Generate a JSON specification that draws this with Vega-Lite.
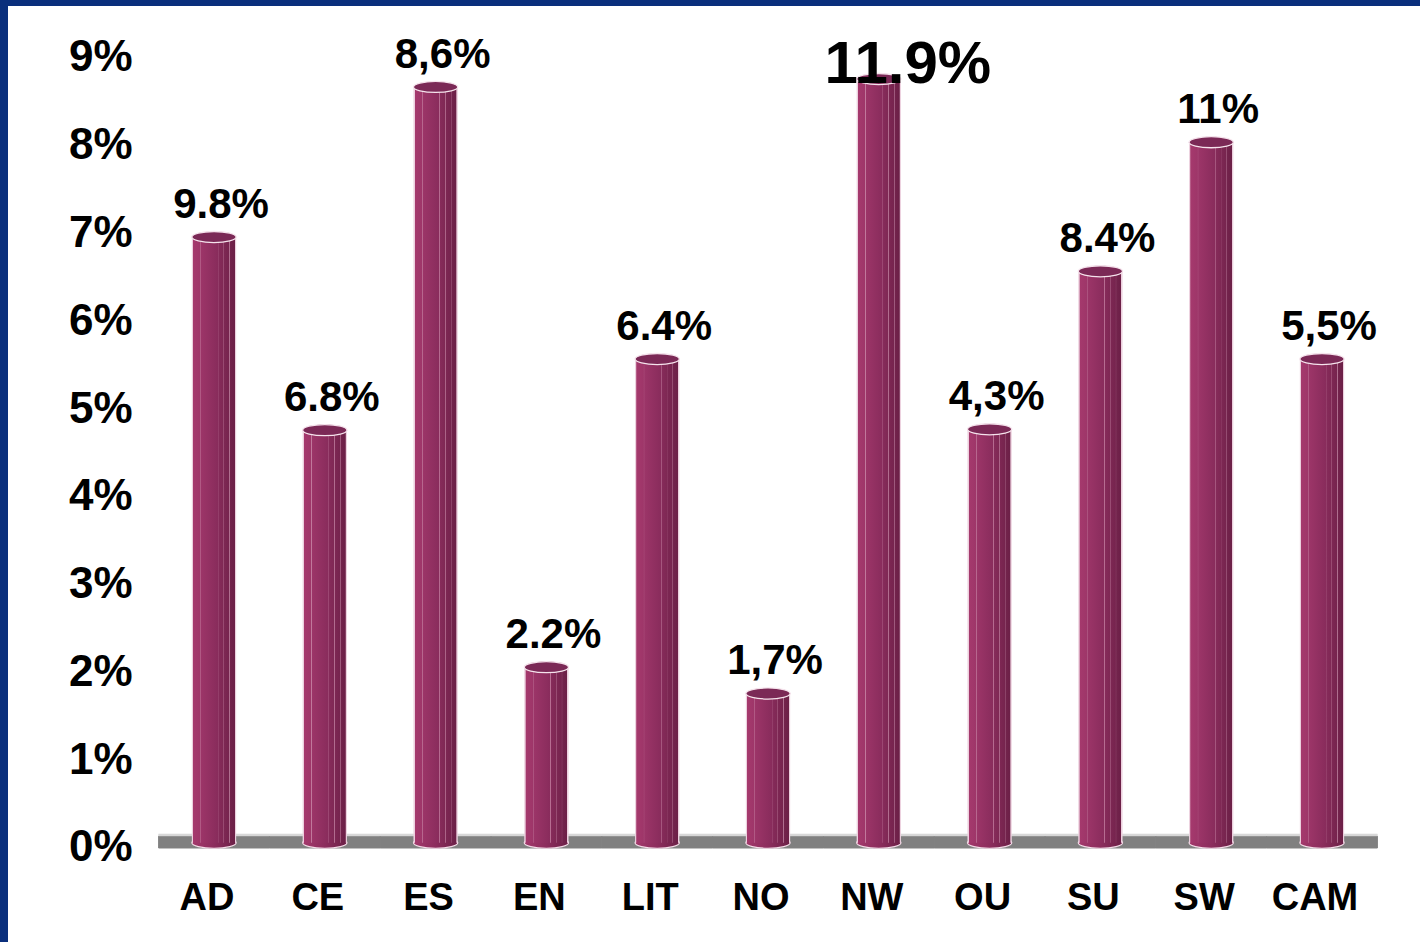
{
  "$schema": "https://vega.github.io/schema/vega-lite/v6.json",
  "width": 1412,
  "height": 936,
  "autosize": {"type": "none"},
  "padding": {"left": 8, "top": 6, "right": 0, "bottom": 0},
  "background": "#0a2f7c",
  "config": {"view": {"fill": "white", "stroke": null}, "font": "Liberation Sans"},
  "data": {"values": [
    {"region": "AD", "value": 6.96, "label": "9.8%"},
    {"region": "CE", "value": 4.76, "label": "6.8%"},
    {"region": "ES", "value": 8.67, "label": "8,6%"},
    {"region": "EN", "value": 2.06, "label": "2.2%"},
    {"region": "LIT", "value": 5.57, "label": "6.4%"},
    {"region": "NO", "value": 1.76, "label": "1,7%"},
    {"region": "NW", "value": 8.76, "label": "11.9%"},
    {"region": "OU", "value": 4.77, "label": "4,3%"},
    {"region": "SU", "value": 6.57, "label": "8.4%"},
    {"region": "SW", "value": 8.04, "label": "11%"},
    {"region": "CAM", "value": 5.57, "label": "5,5%"}
  ]},
  "encoding": {
    "x": {
      "field": "region", "type": "nominal", "sort": null,
      "scale": {"domain": ["AD", "CE", "ES", "EN", "LIT", "NO", "NW", "OU", "SU", "SW", "CAM"], "paddingInner": 0.2563, "paddingOuter": 1, "align": 0.7437},
      "axis": {"orient": "bottom", "offset": -94, "domain": false, "ticks": false, "grid": false,
        "labelPadding": 31, "labelFontSize": 38, "labelFontWeight": "bold", "labelColor": "black",
        "labelFont": "Liberation Sans", "labelOffset": -7, "labelAngle": 0, "title": null}
    },
    "y": {
      "field": "value", "type": "quantitative",
      "scale": {"domain": [-1.071, 9.592], "nice": false, "zero": false},
      "axis": {"orient": "left", "offset": -142, "values": [0,1,2,3,4,5,6,7,8,9], "labelExpr": "datum.value + '%'",
        "domain": false, "ticks": false, "grid": false, "labelPadding": 18, "labelFontSize": 44,
        "labelFontWeight": "bold", "labelColor": "black", "labelFont": "Liberation Sans", "title": null}
    }
  },
  "layer": [
    {
      "mark": {"type": "bar", "color": "#808080", "stroke": "#808080", "strokeWidth": 1, "width": {"band": 1.3446}},
      "encoding": {"y": {"datum": 0, "type": "quantitative"}, "y2": {"datum": 0.135}}
    },
    {
      "mark": {"type": "bar", "color": "#d9d9d9", "stroke": "#d9d9d9", "strokeWidth": 0.5, "width": {"band": 1.3446}},
      "encoding": {"y": {"datum": 0.14, "type": "quantitative"}, "y2": {"datum": 0.16}}
    },
    {
      "mark": {"type": "point", "filled": true, "opacity": 1, "size": 1962,
        "shape": "M -1 0 A 1 0.25 0 1 0 1 0 A 1 0.25 0 1 0 -1 0 Z",
        "fill": {"gradient": "linear", "x1": 0, "x2": 1, "y1": 0, "y2": 0,
          "stops": [{"offset": 0, "color": "#a3396c"}, {"offset": 0.5, "color": "#8c2d5d"}, {"offset": 1, "color": "#6c2047"}]},
        "stroke": "#f3dbe7", "strokeWidth": 1.2},
      "encoding": {"y": {"datum": 0.06, "type": "quantitative"}}
    },
    {
      "mark": {"type": "bar", "width": {"band": 0.5376},
        "color": {"gradient": "linear", "x1": 0, "x2": 1, "y1": 0, "y2": 0,
          "stops": [
            {"offset": 0, "color": "#ecd0de"},
            {"offset": 0.025, "color": "#ecd0de"},
            {"offset": 0.035, "color": "#a5396d"},
            {"offset": 0.19, "color": "#9e3669"},
            {"offset": 0.2, "color": "#c27a9d"},
            {"offset": 0.215, "color": "#9c3568"},
            {"offset": 0.58, "color": "#892c5c"},
            {"offset": 0.59, "color": "#c07a9c"},
            {"offset": 0.605, "color": "#862b5a"},
            {"offset": 0.71, "color": "#7f2854"},
            {"offset": 0.72, "color": "#b87596"},
            {"offset": 0.735, "color": "#7d2753"},
            {"offset": 0.84, "color": "#76244e"},
            {"offset": 0.85, "color": "#b07090"},
            {"offset": 0.865, "color": "#73234c"},
            {"offset": 0.965, "color": "#6c2047"},
            {"offset": 0.975, "color": "#ecd0de"},
            {"offset": 1, "color": "#ecd0de"}
          ]}},
      "encoding": {"y2": {"datum": 0.06}}
    },
    {
      "mark": {"type": "point", "filled": true, "opacity": 1, "size": 1962,
        "shape": "M -1 0 A 1 0.25 0 1 0 1 0 A 1 0.25 0 1 0 -1 0 Z",
        "fill": "#7b2956", "stroke": "#f5e3ec", "strokeWidth": 1.3}
    },
    {
      "transform": [{"filter": "datum.region !== 'NW'"}],
      "mark": {"type": "text", "fontSize": 42, "fontWeight": "bold", "font": "Liberation Sans", "color": "black",
        "baseline": "alphabetic", "align": "center", "dx": 7, "dy": -19},
      "encoding": {"text": {"field": "label"}}
    },
    {
      "transform": [{"filter": "datum.region === 'NW'"}],
      "mark": {"type": "text", "fontSize": 60, "fontWeight": "bold", "font": "Liberation Sans", "color": "black",
        "baseline": "alphabetic", "align": "center", "dx": 29, "dy": 4},
      "encoding": {"text": {"field": "label"}}
    }
  ]
}
